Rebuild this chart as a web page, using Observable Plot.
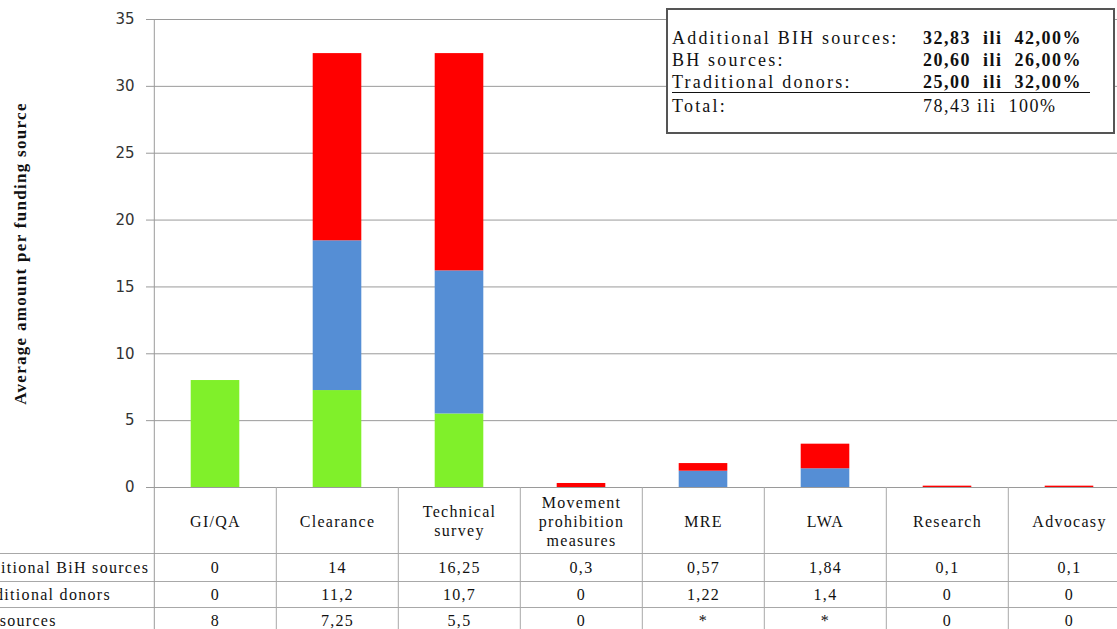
<!DOCTYPE html>
<html>
<head>
<meta charset="utf-8">
<script src="https://cdn.jsdelivr.net/npm/d3@7"></script>
<script src="https://cdn.jsdelivr.net/npm/@observablehq/plot@0.6"></script>
<style>
  html, body { margin: 0; padding: 0; background: #fff; overflow: hidden; }
  #wrap { position: relative; width: 1117px; height: 629px; overflow: hidden; }
  #chart svg { display: block; }
  g[aria-label="y-axis tick label"] { letter-spacing: 0; }
  #legend { position: absolute; left: 666px; top: 8px; width: 449px; height: 126px; box-sizing: border-box;
            border: 2px solid #555; background: #fff; font-family: "Liberation Serif", serif; font-size: 18px;
            line-height: 18px; color: #111; }
  #legend .lab { position: absolute; left: 4px; letter-spacing: 2.2px; white-space: pre; }
  #legend .val { position: absolute; left: 255px; letter-spacing: 1.5px; white-space: pre; font-weight: bold; }
  #legend .val.normal { font-weight: normal; }
  #legend .line { position: absolute; left: 4px; width: 418px; top: 82px; height: 0; border-top: 1.5px solid #111; }
</style>
</head>
<body>
<div id="wrap">
  <div id="chart"></div>
  <div id="legend"></div>
</div>
<script>
// ---- data ----
const categories = ["GI/QA", "Clearance", "Technical survey", "Movement prohibition measures", "MRE", "LWA", "Research", "Advocasy"];
const headerLabels = ["GI/QA", "Clearance", "Technical\nsurvey", "Movement\nprohibition\nmeasures", "MRE", "LWA", "Research", "Advocasy"];
const seriesNames = ["Additional BiH sources", "Traditional donors", "BH sources"];
const additionalBiH = [0, 14, 16.25, 0.3, 0.57, 1.84, 0.1, 0.1];
const traditionalDonors = [0, 11.2, 10.7, 0, 1.22, 1.4, 0, 0];
const bhSources = [8, 7.25, 5.5, 0, null, null, 0, 0];
const seriesColors = ["#ff0000", "#558ed5", "#80f02a"];
const yTicks = [0, 5, 10, 15, 20, 25, 30, 35];
const yLabel = "Average amount per funding source";
const legendLabels = ["Additional BIH sources:", "BH sources:", "Traditional donors:", "Total:"];
const legendValues = ["32,83  ili  42,00%", "20,60  ili  26,00%", "25,00  ili  32,00%", "78,43 ili  100%"];

// ---- layout ----
const W = 1117, H = 629, mL = 152, mT = 19, mB = 142;
const colW = 122.4;
const bw = colW;
const frameH = H - mT - mB;

const fmt = v => v == null ? "*" : String(v).replace(".", ",");

const stackRows = [];
categories.forEach((c, i) => {
  stackRows.push({cat: c, series: "BH sources", value: bhSources[i] ?? 0});
  stackRows.push({cat: c, series: "Traditional donors", value: traditionalDonors[i]});
  stackRows.push({cat: c, series: "Additional BiH sources", value: additionalBiH[i]});
});

const tableSeries = [additionalBiH, traditionalDonors, bhSources];
const rowDy = [80, 107, 133];
const rowLines = [66, 94, 120];

const tableMarks = [];
tableSeries.forEach((arr, k) => {
  tableMarks.push(Plot.text(categories, {
    x: d => d, text: arr.map(fmt), frameAnchor: "bottom", dy: rowDy[k], lineAnchor: "middle", fill: "#111"
  }));
  tableMarks.push(Plot.text([seriesNames[k]], {
    text: d => d, frameAnchor: "bottom-left", dx: -183, dy: rowDy[k], textAnchor: "start", lineAnchor: "middle", fill: "#111"
  }));
});

const plot = Plot.plot({
  width: W, height: H,
  marginLeft: mL, marginRight: 0, marginTop: mT, marginBottom: mB,
  style: {fontFamily: '"Liberation Serif", serif', fontSize: "16px", letterSpacing: "1.3px", background: "#fff", overflow: "hidden"},
  x: {domain: categories, range: [mL, mL + categories.length * colW], padding: 0, axis: null},
  y: {domain: [0, 35], axis: null},
  color: {domain: seriesNames, range: seriesColors},
  marks: [
    // gridlines (with short ticks to the left)
    Plot.ruleY(yTicks, {stroke: "#9a9a9a", strokeWidth: 1, insetLeft: -6}),
    // table horizontal lines
    ...rowLines.map(d => Plot.ruleY([0], {dy: d, stroke: "#a8a8a8", insetLeft: -mL})),
    // table column boundaries
    Plot.ruleX(categories.slice(1), {x: d => d, dx: -bw / 2, stroke: "#a8a8a8", insetTop: frameH, insetBottom: -mB}),
    // y axis line continued through the table
    Plot.ruleX([categories[0]], {x: d => d, dx: -bw / 2, stroke: "#9a9a9a", insetBottom: -mB}),
    // stacked bars
    Plot.barY(stackRows, {x: "cat", y: "value", fill: "series", insetLeft: 36.7, insetRight: 36.7}),
    // y tick labels
    Plot.axisY({ticks: yTicks, tickSize: 0, tickPadding: 18, fontFamily: "DejaVu Sans", fontSize: 15, color: "#333", label: null}),
    // y axis title
    Plot.text([yLabel], {text: d => d, frameAnchor: "left", dx: -132, rotate: -90, textAnchor: "middle", lineAnchor: "middle",
      fontWeight: "bold", fontSize: 17, fill: "#111"}),
    // table header
    Plot.text(categories, {x: d => d, text: headerLabels, frameAnchor: "bottom", dy: 33, lineAnchor: "middle", lineHeight: 1.19, fill: "#111"}),
    ...tableMarks
  ]
});
document.getElementById("chart").appendChild(plot);

// ---- legend box ----
const legend = document.getElementById("legend");
const tops = [19, 41, 63, 87];
legendLabels.forEach((l, i) => {
  const a = document.createElement("div");
  a.className = "lab"; a.style.top = tops[i] + "px"; a.textContent = l;
  legend.appendChild(a);
  const b = document.createElement("div");
  b.className = "val" + (i === 3 ? " normal" : ""); b.style.top = tops[i] + "px"; b.textContent = legendValues[i];
  legend.appendChild(b);
});
const ln = document.createElement("div"); ln.className = "line"; legend.appendChild(ln);
</script>
</body>
</html>
